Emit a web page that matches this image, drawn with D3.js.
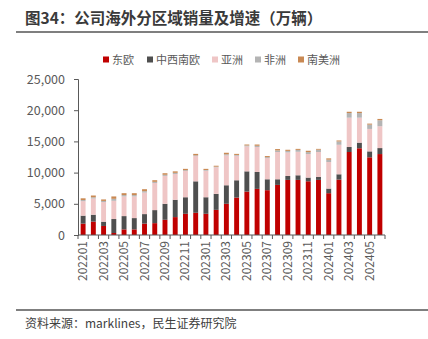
<!DOCTYPE html>
<html>
<head>
<meta charset="utf-8">
<script src="https://cdn.jsdelivr.net/npm/d3@7"></script>
<style>
  body { margin: 0; background: #fff; }
  svg { display: block; font-family: "Noto Sans CJK SC", "Noto Sans", sans-serif; }
</style>
</head>
<body>
<svg id="chart" width="428" height="339"></svg>
<script>
// monthly overseas sales by region
const months = [
  "202201", "202202", "202203", "202204", "202205", "202206", "202207", "202208", "202209", "202210",
  "202211", "202212", "202301", "202302", "202303", "202304", "202305", "202306", "202307", "202308",
  "202309", "202310", "202311", "202312", "202401", "202402", "202403", "202404", "202405", "202406"
];
const eastEurope = [1820, 2150, 1450, 320, 900, 900, 1820, 1900, 2440, 2870,
  3400, 3560, 3400, 4030, 5000, 6000, 6960, 7390, 7180, 8030,
  8830, 8830, 8610, 8830, 6700, 8880, 13300, 13900, 12450, 12970];
const westEurope = [1280, 1100, 680, 2240, 2130, 1810, 1530, 2090, 2560, 2770,
  2650, 5040, 2650, 2560, 2970, 2770, 3240, 2710, 1750, 900,
  630, 740, 590, 470, 740, 850, 800, 900, 950, 960];
const asia = [2330, 2600, 3150, 2920, 3150, 3470, 3450, 4350, 4470, 4140,
  4210, 4050, 4250, 4260, 4790, 3930, 4000, 4000, 3400, 4370,
  3770, 3770, 3770, 4000, 4260, 4730, 4700, 4000, 3600, 3500];
const africa = [180, 200, 180, 320, 220, 220, 220, 180, 180, 180,
  130, 130, 120, 100, 180, 130, 150, 200, 150, 250,
  250, 300, 320, 370, 370, 530, 740, 740, 690, 960];
const southAmerica = [270, 280, 240, 380, 300, 300, 320, 260, 250, 240,
  210, 220, 180, 150, 240, 170, 150, 200, 170, 220,
  180, 160, 210, 130, 210, 160, 210, 210, 160, 210];

const seriesNames = ["东欧", "中西南欧", "亚洲", "非洲", "南美洲"];
const seriesColors = ["#c00000", "#4f4f4f", "#efc6c6", "#b4b4b4", "#c98953"];
const yTicks = [0, 5000, 10000, 15000, 20000, 25000];

const rows = months.map((m, i) => ({
  month: m,
  "东欧": eastEurope[i],
  "中西南欧": westEurope[i],
  "亚洲": asia[i],
  "非洲": africa[i],
  "南美洲": southAmerica[i]
}));

const svg = d3.select("#chart");

// title and rules
svg.append("text")
  .attr("x", 25).attr("y", 24)
  .attr("font-size", 15.5).attr("font-weight", "bold").attr("fill", "#3a3a3a")
  .text("图34：公司海外分区域销量及增速（万辆）");
svg.append("line")
  .attr("x1", 16).attr("x2", 428).attr("y1", 32).attr("y2", 32)
  .attr("stroke", "#555").attr("stroke-width", 1.5);
svg.append("line")
  .attr("x1", 16).attr("x2", 428).attr("y1", 310).attr("y2", 310)
  .attr("stroke", "#555").attr("stroke-width", 1.5);
svg.append("text")
  .attr("x", 25).attr("y", 328)
  .attr("font-size", 12).attr("fill", "#404040")
  .text("资料来源：marklines，民生证券研究院");

const x = d3.scaleBand().domain(months).range([78, 385]).paddingInner(0.52).paddingOuter(0.26);
const y = d3.scaleLinear().domain([0, 25000]).range([235, 79]);

const stack = d3.stack().keys(seriesNames)(rows);

svg.append("g").selectAll("g")
  .data(stack)
  .join("g")
  .attr("fill", (d, i) => seriesColors[i])
  .selectAll("rect")
  .data(d => d)
  .join("rect")
  .attr("x", d => x(d.data.month))
  .attr("width", x.bandwidth())
  .attr("y", d => y(d[1]))
  .attr("height", d => y(d[0]) - y(d[1]));

// y axis
const yAxis = svg.append("g")
  .attr("transform", "translate(78,0)")
  .call(d3.axisLeft(y).tickValues(yTicks).tickSize(4).tickPadding(9).tickFormat(d3.format(",")));
yAxis.select(".domain").attr("stroke", "#595959");
yAxis.selectAll(".tick line").attr("stroke", "#595959");
yAxis.selectAll("text").attr("font-size", 12.5).attr("fill", "#595959")
  .attr("font-family", "\"Noto Sans CJK SC\", sans-serif");

// x axis: ticks at band edges, labels every other month
const edge = x.step() * x.paddingInner() / 2;
const lastEdge = x(months[months.length - 1]) + x.bandwidth() + edge;
const xg = svg.append("g");
xg.append("line")
  .attr("x1", 78).attr("x2", 385).attr("y1", 235).attr("y2", 235)
  .attr("stroke", "#595959");
xg.selectAll(".tk")
  .data(months.concat([null]))
  .join("line")
  .attr("x1", d => d ? x(d) - edge : lastEdge)
  .attr("x2", d => d ? x(d) - edge : lastEdge)
  .attr("y1", 235).attr("y2", 239)
  .attr("stroke", "#595959");
xg.selectAll(".lbl")
  .data(months.filter((m, i) => i % 2 === 0))
  .join("text")
  .attr("transform", d => `translate(${x(d) + x.bandwidth() / 2 + 4},241) rotate(-90)`)
  .attr("text-anchor", "end")
  .attr("font-size", 12).attr("fill", "#595959")
  .text(d => d);

// legend
const legendX = [103, 147, 212, 255, 298];
const legend = svg.append("g").selectAll("g")
  .data(seriesNames)
  .join("g")
  .attr("transform", (d, i) => `translate(${legendX[i]},59.5)`);
legend.append("rect")
  .attr("x", 0).attr("y", -3).attr("width", 6).attr("height", 6)
  .attr("fill", (d, i) => seriesColors[i]);
legend.append("text")
  .attr("x", 9).attr("y", 4)
  .attr("font-size", 11).attr("fill", "#595959")
  .text(d => d);
</script>
</body>
</html>
